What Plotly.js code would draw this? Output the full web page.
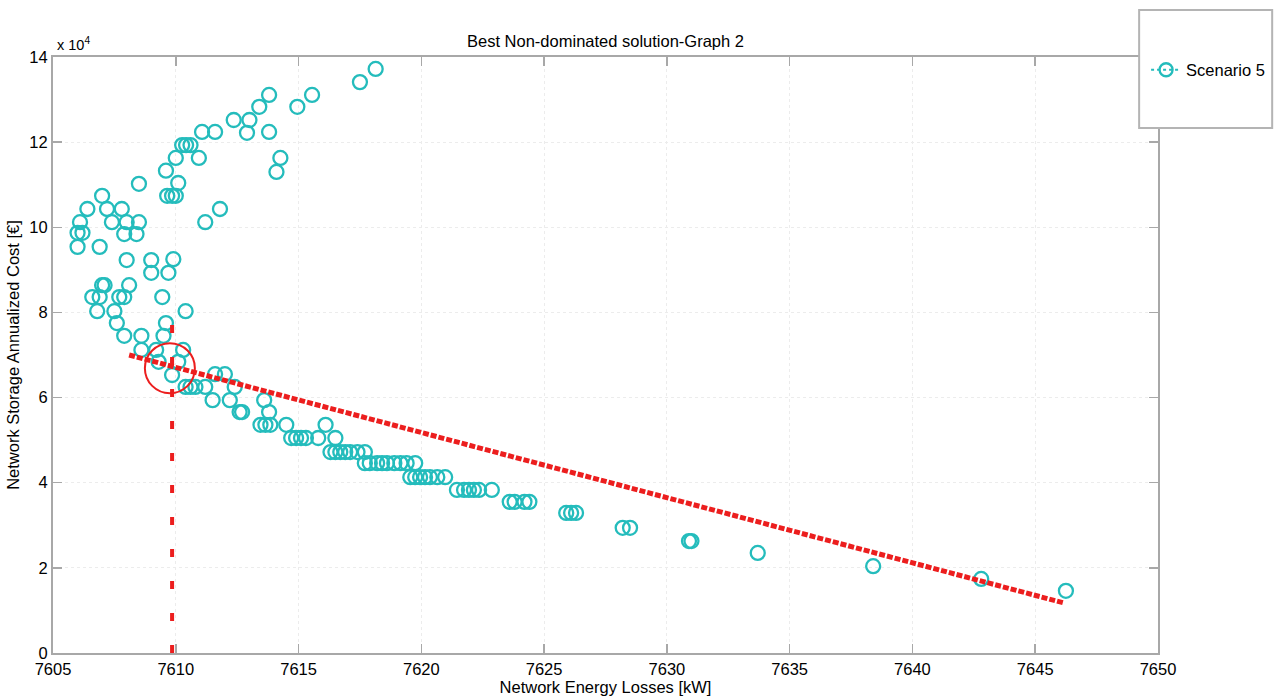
<!DOCTYPE html>
<html>
<head>
<meta charset="utf-8">
<script src="https://cdn.plot.ly/plotly-3.0.1.min.js"></script>
<style>html,body{margin:0;padding:0;background:#fff;}#chart{width:1282px;height:697px;}</style>
</head>
<body>
<div id="chart"></div>
<script>
// Scenario 5 solutions: Network Energy Losses [kW] vs Network Storage Annualized Cost [€]
const lossKW = [
  7618.14,7617.5,7615.55,7614.95,7613.8,7613.4,7613.0,7612.36,7612.9,7613.8,7611.07,7611.6,7614.26,7614.1,
  7610.26,7610.42,7610.6,7610.0,7610.94,7609.6,7610.1,7609.65,7609.85,7610.0,7608.5,7611.2,7611.8,
  7607.0,7606.4,7607.2,7607.8,7606.1,7607.4,7608.0,7608.5,7606.0,7606.2,7607.9,7608.4,7606.0,7606.9,
  7608.0,7609.0,7609.9,7609.0,7609.7,7607.0,7607.1,7608.1,7606.6,7606.9,7607.7,7607.9,7609.45,
  7606.8,7607.5,7610.4,7607.6,7609.6,7607.9,7608.6,7609.5,7608.6,7609.2,7610.3,7609.3,7610.1,7609.85,
  7610.4,7610.6,7610.8,7611.2,7611.6,7612.0,7612.4,7611.5,7612.2,7612.6,7612.7,7613.6,7613.8,
  7613.45,7613.65,7613.85,7614.5,7614.7,7614.9,7615.1,7615.3,7615.8,7616.1,7616.5,
  7616.3,7616.5,7616.7,7616.9,7617.1,7617.4,7617.7,
  7617.7,7617.9,7618.2,7618.4,7618.6,7618.9,7619.15,7619.4,7619.75,
  7619.55,7619.75,7619.95,7620.15,7620.35,7620.65,7620.97,
  7621.45,7621.74,7621.94,7622.14,7622.35,7622.87,
  7623.6,7623.8,7624.2,7624.4,
  7625.9,7626.1,7626.3,
  7628.2,7628.5,7630.9,7631.0,7633.7,7638.4,7642.8,7646.25
];
const costEUR = [
  137200,134100,131100,128300,131100,128300,125200,125200,122200,122400,122400,122400,116300,113000,
  119300,119300,119300,116300,116300,113300,110400,107400,107400,107400,110200,101200,104300,
  107400,104300,104300,104300,101200,101200,101200,101200,98700,98700,98400,98400,95400,95400,
  92300,92300,92500,89300,89300,86400,86400,86400,83600,83600,83600,83600,83600,
  80300,80300,80300,77500,77500,74500,74500,74500,71200,71200,71200,68400,68400,65300,
  62500,62500,62500,62500,65500,65500,62500,59400,59400,56600,56600,59400,56600,
  53600,53600,53600,53600,50500,50500,50500,50500,50500,53600,50500,
  47200,47200,47200,47200,47200,47200,47200,
  44600,44600,44600,44600,44600,44600,44600,44600,44600,
  41300,41300,41300,41300,41300,41300,41300,
  38300,38300,38300,38300,38300,38300,
  35500,35500,35500,35500,
  32900,32900,32900,
  29400,29400,26300,26300,23500,20400,17400,14600
];
// red dashed trade-off line
const trendX = [7608.1, 7646.2];
const trendY = [70000, 11700];
// red vertical dashed line at the chosen solution
const pickX = [7609.85, 7609.85];
const pickY = [0, 79500];
// highlighted (best) solution
const bestX = [7609.76];
const bestY = [66900];

const xTicks = [7605,7610,7615,7620,7625,7630,7635,7640,7645,7650];
const yTickVals = [0,20000,40000,60000,80000,100000,120000,140000];
const yTickText = ['0','2','4','6','8','10','12','14'];

const teal = 'rgb(36,188,188)';
const red = 'rgb(236,30,30)';
const FONT = 'Liberation Sans, Arial, Helvetica, sans-serif';

const traces = [
  {x: lossKW, y: costEUR, type: 'scatter', mode: 'markers', showlegend: false, hoverinfo: 'x+y',
   marker: {symbol: 'circle-open', size: 14, color: teal, line: {width: 2.3, color: teal}}},
  {x: trendX, y: trendY, type: 'scatter', mode: 'lines', showlegend: false,
   line: {color: red, width: 5, dash: '6px,2px'}},
  {x: pickX, y: pickY, type: 'scatter', mode: 'lines', showlegend: false,
   line: {color: red, width: 4, dash: '8px,24px'}},
  {x: bestX, y: bestY, type: 'scatter', mode: 'markers', showlegend: false,
   marker: {symbol: 'circle-open', size: 50, color: red, line: {width: 2, color: red}}},
  {x: [null], y: [null], type: 'scatter', mode: 'lines+markers', name: 'Scenario 5',
   line: {color: teal, width: 2, dash: 'dot'},
   marker: {symbol: 'circle-open', size: 13, color: teal, line: {width: 2.3, color: teal}}}
];

const axisCommon = {
  showline: true, linecolor: '#a8a8a8', linewidth: 2, mirror: 'ticks',
  ticks: 'inside', ticklen: 9, tickwidth: 1.5, tickcolor: '#a8a8a8',
  showgrid: true, gridcolor: '#ececec', griddash: 'dot', gridwidth: 1,
  zeroline: false, tickfont: {family: FONT, size: 16.5, color: '#000'}, automargin: false
};

const layout = {
  width: 1282, height: 697,
  margin: {l: 53, r: 116, t: 57, b: 44},
  paper_bgcolor: '#fff', plot_bgcolor: '#fff',
  font: {family: FONT, color: '#000'},
  title: {text: 'Best Non-dominated solution-Graph 2', font: {family: FONT, size: 16.5, color: '#000'},
          x: 0.5, xref: 'paper', xanchor: 'center', y: 1 - 41/697, yref: 'container', yanchor: 'middle'},
  xaxis: Object.assign({}, axisCommon, {
    range: [7605, 7650], tickvals: xTicks, ticktext: xTicks.map(String),
    title: {text: 'Network Energy Losses [kW]', font: {family: FONT, size: 16.5, color: '#000'}, standoff: 2}
  }),
  yaxis: Object.assign({}, axisCommon, {
    range: [0, 140000], tickvals: yTickVals, ticktext: yTickText,
    title: {text: 'Network Storage Annualized Cost [€]', font: {family: FONT, size: 16.5, color: '#000'}, standoff: 6}
  }),
  shapes: [
    {type: 'rect', xref: 'paper', yref: 'paper', x0: (1147-53)/1113, x1: (1281-53)/1113,
     y0: (653-128)/596, y1: (653-10)/596, fillcolor: '#fff', line: {color: '#b4b4b4', width: 2}, layer: 'above'}
  ],
  legend: {x: (1154-53)/1113, xanchor: 'left', y: (653-70)/596, yanchor: 'middle',
           bgcolor: 'rgba(0,0,0,0)', borderwidth: 0, font: {family: FONT, size: 16.5, color: '#000'}},
  annotations: [
    {text: 'x 10<sup>4</sup>', xref: 'paper', yref: 'paper', x: 0, y: 1, xanchor: 'left', yanchor: 'bottom',
     showarrow: false, xshift: 2, yshift: 2, font: {family: FONT, size: 14.5, color: '#000'}}
  ],
  showlegend: true
};

Plotly.newPlot('chart', traces, layout, {displayModeBar: false, staticPlot: true});
</script>
</body>
</html>
